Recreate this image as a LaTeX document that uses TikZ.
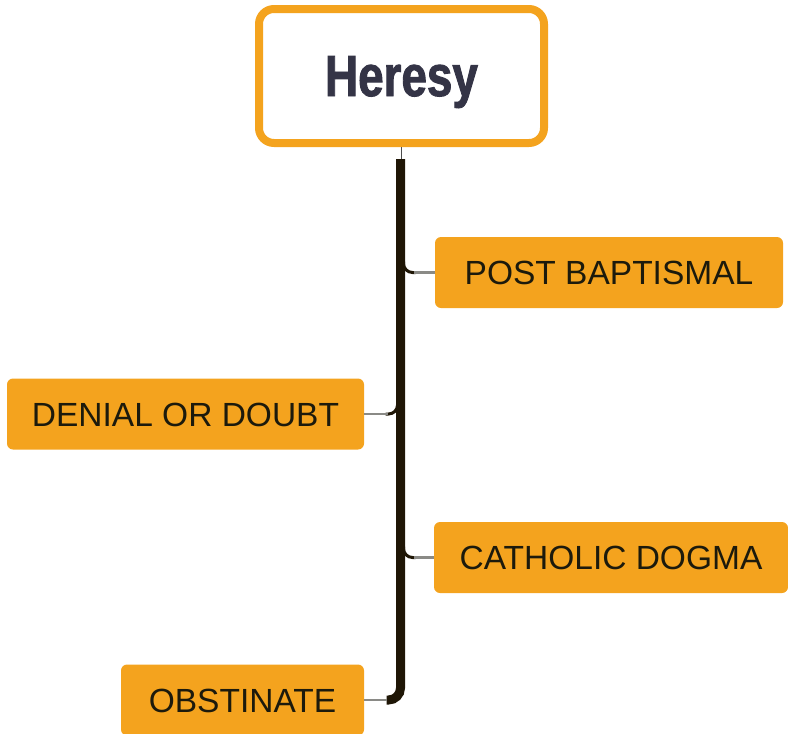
\documentclass[tikz,border=0pt]{standalone}
\usepackage{fontspec}
\setmainfont{Liberation Sans}
\newfontfamily\headfont[FakeStretch=0.79,FakeBold=1.6]{Liberation Sans}
\usepackage{tikz}
\usetikzlibrary{calc}
\definecolor{amber}{HTML}{F4A31E}
\definecolor{ink}{HTML}{1C1A0C}
\definecolor{slate}{HTML}{343446}
\definecolor{bark}{HTML}{1F1606}
\definecolor{twiggrey}{HTML}{8A8A86}
\tikzset{%
  topic/.style={draw=amber,line width=8pt,fill=white,rounded corners=15pt,minimum width=285pt,minimum height=134pt,font=\headfont\bfseries\fontsize{58}{60}\selectfont,text=slate,text height=42pt,text depth=2pt},
  leaf/.style={fill=amber,rounded corners=6pt,minimum height=71pt,font=\fontsize{33.5}{36}\selectfont,text=ink,text height=24.5pt,text depth=0pt},
  trunk/.style={draw=bark,line width=9pt},
  twig/.style={draw=twiggrey,line width=2.5pt},
  fillet/.style={draw=bark,line width=3pt,rounded corners=9pt},
}

\begin{document}
\begin{tikzpicture}[x=1pt,y=-1pt]
  \useasboundingbox (0,0) rectangle (788,734);
  \node[topic] (root) at (401.5,76) {Heresy};
  \node[leaf,minimum width=348pt] (post) at (609,272.5) {POST BAPTISMAL};
  \node[leaf,minimum width=357pt] (denial) at (185.5,414) {DENIAL OR DOUBT};
  \node[leaf,minimum width=354pt] (dogma) at (611,557.5) {CATHOLIC DOGMA};
  \node[leaf,minimum width=243pt] (obstinate) at (242.5,700) {OBSTINATE};

  \coordinate (top) at (400.5,159);
  \coordinate (bend) at (400.5,700);

  \draw[draw=black!70,line width=1.5pt] (root.south) -- (root.south |- top);
  \draw[trunk,rounded corners=12pt] (top) |- ($(bend)+(-14,0)$);
  \draw[twig] ($(bend)+(-14,0)$) -- (obstinate.east);

  \foreach \leaf/\side/\dir in {post/west/1,dogma/west/1,denial/east/-1} {
    \draw[fillet] ($(top |- \leaf.\side)+(\dir*3,-11)$) |- ($(top |- \leaf.\side)+(\dir*15,0)$);
    \draw[twig] ($(top |- \leaf.\side)+(\dir*13,0)$) -- (\leaf.\side);
  }
\end{tikzpicture}
\end{document}
